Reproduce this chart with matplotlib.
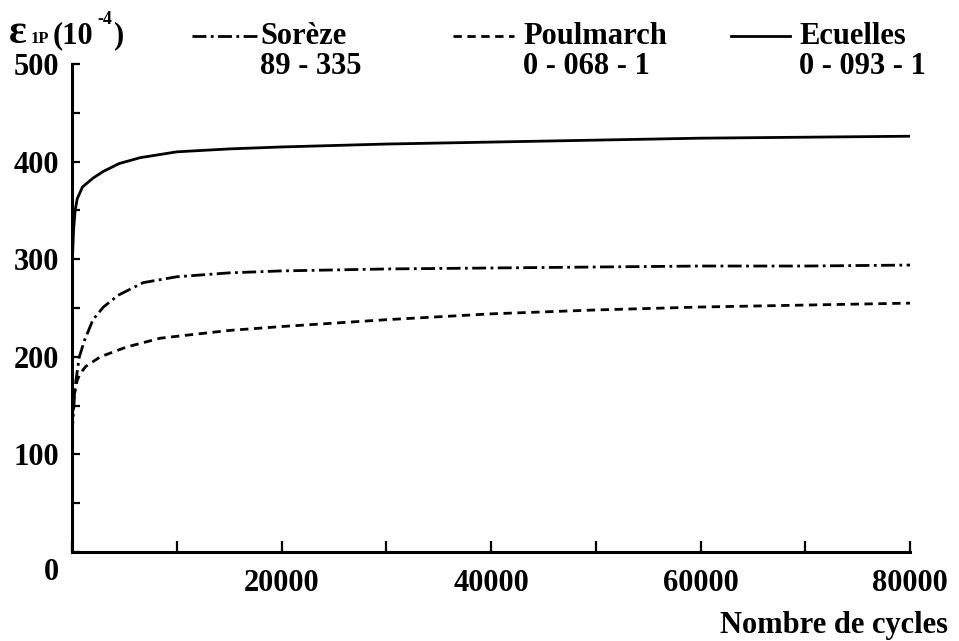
import matplotlib
matplotlib.use("Agg")
import matplotlib.pyplot as plt
from matplotlib.lines import Line2D

# ---- data ----
ecuelles_cycles = [0, 150, 300, 500, 1000, 2000, 3000, 4500, 6500, 10000, 15000,
                   20000, 30000, 40000, 50000, 60000, 70000, 80000]
ecuelles_eps = [290, 330, 350, 362, 374, 383, 390, 398, 404, 410, 413,
                415, 418, 420, 422, 424, 425, 426]

soreze_cycles = [0, 300, 700, 1200, 2000, 3000, 4400, 6800, 10000, 15000,
                 20000, 30000, 40000, 50000, 60000, 70000, 80000]
soreze_eps = [120, 170, 200, 217, 238, 251, 263, 276, 282, 286,
              288, 290, 291, 292, 293, 293, 294]

poulmarch_cycles = [0, 200, 500, 800, 1300, 2700, 5200, 8400, 10000, 15000,
                    20000, 30000, 40000, 50000, 60000, 70000, 80000]
poulmarch_eps = [130, 160, 176, 183, 190, 200, 210, 219, 221, 227,
                 231, 238, 244, 248, 251, 253, 255]

series_names = ["Sorèze", "Poulmarch", "Ecuelles"]
series_codes = ["89 - 335", "0 - 068 - 1", "0 - 093 - 1"]

x_ticks = [0, 10000, 20000, 30000, 40000, 50000, 60000, 70000, 80000]
x_ticklabels = ["", "", "20000", "", "40000", "", "60000", "", "80000"]
y_ticks = [0, 50, 100, 150, 200, 250, 300, 350, 400, 450, 500]
y_ticklabels = ["", "", "100", "", "200", "", "300", "", "400", "", "500"]

# ---- style ----
plt.rcParams['font.family'] = ['Liberation Serif', 'DejaVu Serif']
plt.rcParams['font.weight'] = 'bold'

W, H = 959, 641
fig = plt.figure(figsize=(W / 100, H / 100), dpi=100)
ax = fig.add_axes([72 / W, (H - 552) / H, (910 - 72) / W, (552 - 64) / H])

FS = 22
LW = 2.0
styles = {
    "Sorèze": dict(linestyle=(0, (5, 1.6, 1, 1.6))),
    "Poulmarch": dict(linestyle=(0, (3, 2))),
    "Ecuelles": dict(linestyle='-'),
}
data = {
    "Sorèze": (soreze_cycles, soreze_eps),
    "Poulmarch": (poulmarch_cycles, poulmarch_eps),
    "Ecuelles": (ecuelles_cycles, ecuelles_eps),
}
for name in series_names:
    xs, ys = data[name]
    ax.plot(xs, ys, color='black', lw=LW, **styles[name])

ax.set_xlim(0, 80000)
ax.set_ylim(0, 500)
for s in ['top', 'right']:
    ax.spines[s].set_visible(False)
for s in ['left', 'bottom']:
    ax.spines[s].set_linewidth(2.2)

ax.set_xticks(x_ticks)
ax.set_xticklabels(x_ticklabels, fontsize=FS, fontweight='bold')
ax.set_yticks(y_ticks)
ax.set_yticklabels(y_ticklabels, fontsize=FS, fontweight='bold')
ax.tick_params(axis='x', direction='in', length=8, width=1.6, pad=12)
ax.tick_params(axis='y', direction='in', length=6, width=1.6, pad=9)

# origin label
fig.text(51 / W, 1 - 572 / H, "0", fontsize=FS, fontweight='bold',
         ha='center', va='center')

# axis titles
fig.text(948 / W, 1 - 625 / H, "Nombre de cycles", fontsize=FS,
         fontweight='bold', ha='right', va='center')

# y-axis title: ε_1P (10^-4), built from pieces
base = 1 - 43 / H
fig.text(9 / W, base, "ε", fontsize=30, fontweight='bold', ha='left', va='baseline')
fig.text(31 / W, base, "1P", fontsize=12, fontweight='bold', ha='left', va='baseline')
fig.text(53 / W, base, "(10", fontsize=FS, fontweight='bold', ha='left', va='baseline')
fig.text(97 / W, 1 - 24 / H, "-4", fontsize=13, fontweight='bold', ha='left', va='baseline')
fig.text(114 / W, base, ")", fontsize=FS, fontweight='bold', ha='left', va='baseline')

# legend (manual, as in the reference)
leg_lines = [(192, 257), (453, 514), (731, 790)]
leg_text_x = [260, 523, 799]
for name, code, (x0, x1), tx in zip(series_names, series_codes, leg_lines, leg_text_x):
    fig.add_artist(Line2D([x0 / W, x1 / W], [1 - 36 / H, 1 - 36 / H],
                          transform=fig.transFigure, color='black', lw=LW,
                          **styles[name]))
    fig.text(tx / W, 1 - 36 / H, name, fontsize=FS, fontweight='bold',
             ha='left', va='center')
    fig.text(tx / W, 1 - 66 / H, code, fontsize=FS, fontweight='bold',
             ha='left', va='center')

fig.savefig("out.png", dpi=100)
